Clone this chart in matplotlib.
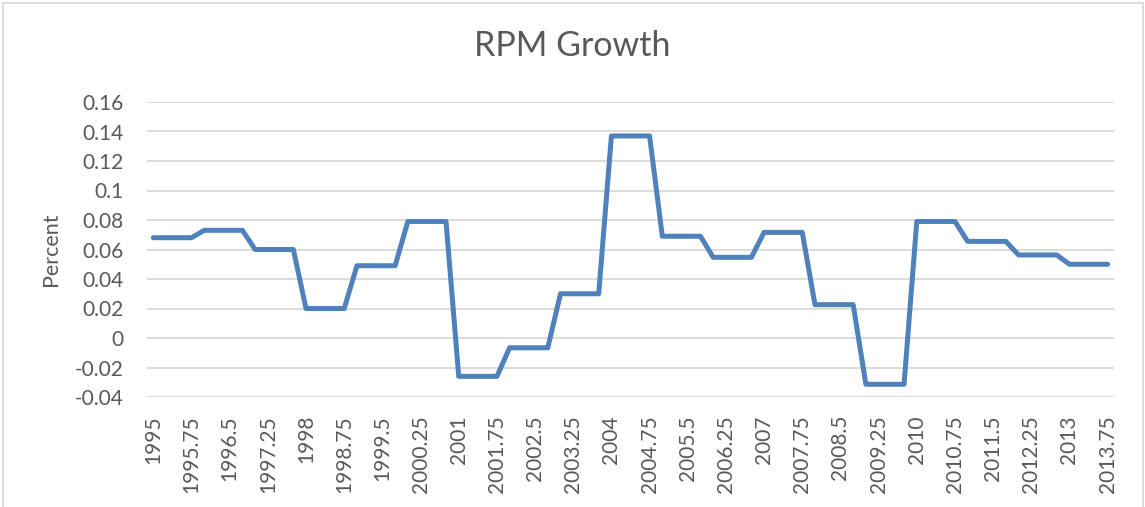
import matplotlib.pyplot as plt
from matplotlib.patches import Rectangle
import numpy as np

# quarterly periods and RPM growth rate (annual rate held across each year's quarters)
quarters = np.arange(1995, 2014, 0.25)
labels = [f'{q:g}' for q in quarters]
growth = [
    0.068, 0.068, 0.068, 0.068,      # 1995
    0.073, 0.073, 0.073, 0.073,      # 1996
    0.060, 0.060, 0.060, 0.060,      # 1997
    0.020, 0.020, 0.020, 0.020,      # 1998
    0.049, 0.049, 0.049, 0.049,      # 1999
    0.079, 0.079, 0.079, 0.079,      # 2000
    -0.026, -0.026, -0.026, -0.026,  # 2001
    -0.0066, -0.0066, -0.0066, -0.0066,  # 2002
    0.030, 0.030, 0.030, 0.030,      # 2003
    0.137, 0.137, 0.137, 0.137,      # 2004
    0.069, 0.069, 0.069, 0.069,      # 2005
    0.0547, 0.0547, 0.0547, 0.0547,  # 2006
    0.0716, 0.0716, 0.0716, 0.0716,  # 2007
    0.0226, 0.0226, 0.0226, 0.0226,  # 2008
    -0.0314, -0.0314, -0.0314, -0.0314,  # 2009
    0.079, 0.079, 0.079, 0.079,      # 2010
    0.0655, 0.0655, 0.0655, 0.0655,  # 2011
    0.0563, 0.0563, 0.0563, 0.0563,  # 2012
    0.050, 0.050, 0.050, 0.050,      # 2013
]
yticks = [-0.04, -0.02, 0, 0.02, 0.04, 0.06, 0.08, 0.1, 0.12, 0.14, 0.16]
ytick_labels = ['-0.04', '-0.02', '0', '0.02', '0.04', '0.06', '0.08', '0.1', '0.12', '0.14', '0.16']

plt.rcParams['font.family'] = ['Lato', 'DejaVu Sans']
grey = '#595959'

fig = plt.figure(figsize=(11.45, 5.07), dpi=100)
ax = fig.add_axes([147 / 1145, 1 - 397 / 507, (1114 - 147) / 1145, (397 - 102) / 507])

x = np.arange(len(quarters))
ax.plot(x, growth, color='#4F81BD', linewidth=3.6, solid_joinstyle='round',
        solid_capstyle='round', zorder=3)

ax.set_xlim(-0.5, len(quarters) - 0.5)
ax.set_ylim(-0.04, 0.16)
ax.set_yticks(yticks)
ax.set_yticklabels(ytick_labels)
ax.set_xticks(x[::3])
ax.set_xticklabels(labels[::3], rotation=90)

ax.grid(axis='y', color='#D9D9D9', linewidth=1.3, zorder=1)
ax.set_axisbelow(True)
for s in ax.spines.values():
    s.set_visible(False)
ax.tick_params(axis='both', length=0, labelsize=15, labelcolor=grey)
ax.tick_params(axis='y', pad=17)
ax.tick_params(axis='x', pad=13)

ax.set_ylabel('Percent', fontsize=15.5, color=grey, labelpad=10)
fig.text(0.5, 1 - 46 / 507, 'RPM Growth', ha='center', va='center', fontsize=24.5, color=grey)

# light chart-area frame
fig.patches.append(Rectangle((3 / 1145, -0.1), 1140 / 1145, 1.1 - 3 / 507, transform=fig.transFigure,
                             fill=False, edgecolor='#D9D9D9', linewidth=1.3))

plt.savefig('out.png', dpi=100, facecolor='white')
plt.close()
